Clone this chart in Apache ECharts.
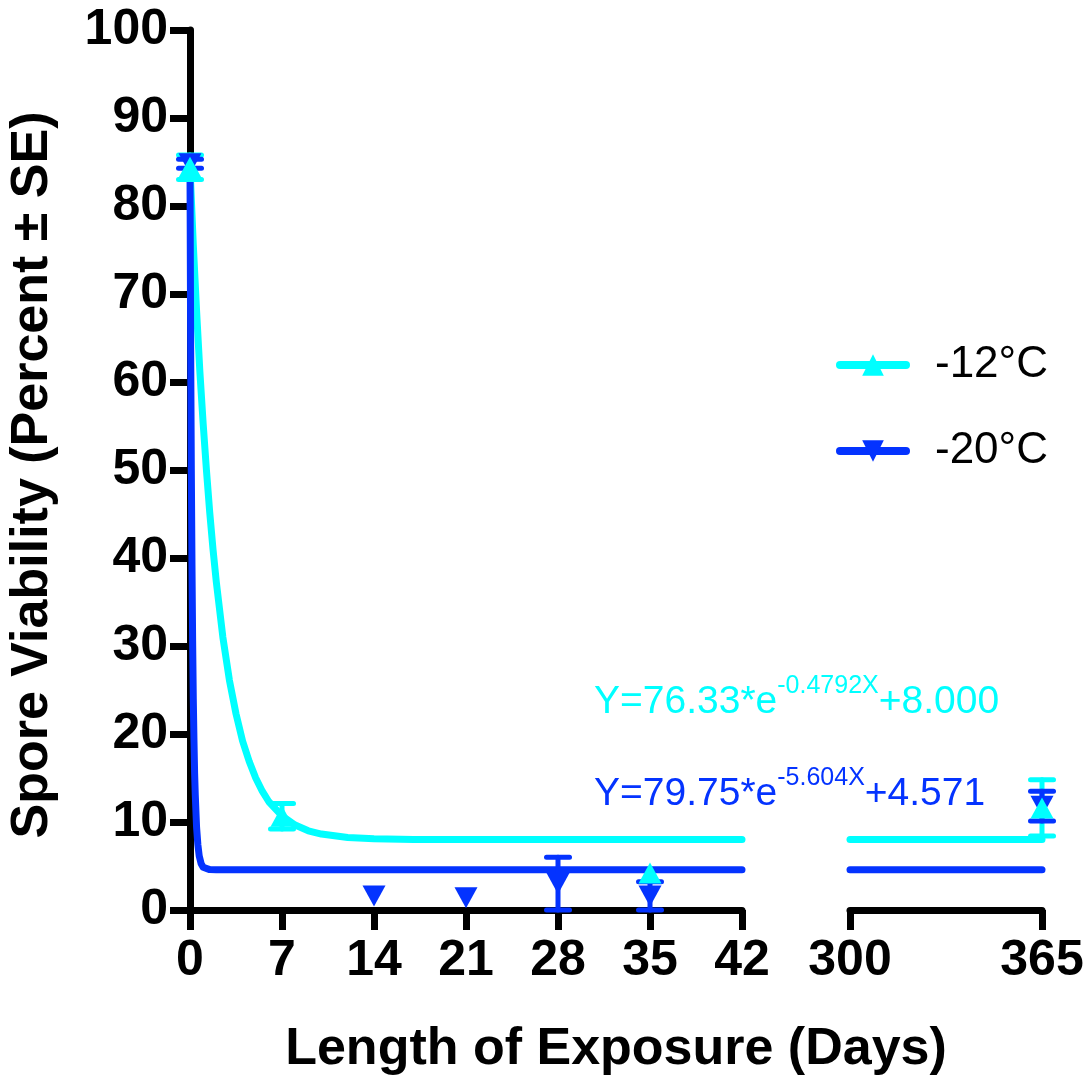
<!DOCTYPE html>
<html><head><meta charset="utf-8">
<script src="https://cdn.jsdelivr.net/npm/echarts@6/dist/echarts.min.js"></script>
<style>html,body{margin:0;padding:0;background:#fff}#c{width:1092px;height:1080px}</style>
</head><body><div id="c"></div>
<script>
const CYAN = '#00FFFF', BLUE = '#0433FF';
const FONT = '"Liberation Sans", Arial, Helvetica, sans-serif';

// Measured points (mean ± SE)
const c12Days = [0, 7, 35, 365];
const c12Mean = [84.4, 10.65, 4.2, 11.6];
const c12SE   = [1.4, 1.45, 0, 3.2];
const c20Days = [0, 14, 21, 28, 35, 365];
const c20Mean = [84.8, 1.6, 1.4, 3.0, 1.6, 11.8];
const c20SE   = [0.5, 0, 0, 3.0, 1.6, 1.7];

// Fitted curves
const c12FitX = [0, 0.25, 0.5, 0.75, 1, 1.25, 1.5, 1.75, 2, 2.5, 3, 3.5, 4, 4.5, 5, 5.5, 6, 7, 8, 9, 10, 12, 14, 17, 20, 30, 42];
const c12FitY = [84.3, 75.6, 68.1, 61.2, 55.3, 50.0, 45.2, 41.0, 37.3, 31.0, 26.1, 22.3, 19.2, 16.9, 15.0, 13.5, 12.3, 10.7, 9.65, 9.0, 8.63, 8.24, 8.09, 8.02, 8.0, 8.0, 8.0];
const c20FitX = [0, 0.05, 0.1, 0.15, 0.2, 0.25, 0.3, 0.35, 0.4, 0.5, 0.6, 0.7, 0.85, 1, 1.5, 2, 42];
const c20FitY = [84.3, 64.0, 50.1, 39.3, 30.6, 24.0, 19.4, 15.6, 13.1, 9.4, 7.4, 6.15, 5.25, 4.86, 4.59, 4.57, 4.57];
const c12FitRX = [300, 365], c12FitRY = [8.0, 8.0];
const c20FitRX = [300, 365], c20FitRY = [4.571, 4.571];

// Axis ticks
const xTicksLeft = [0, 7, 14, 21, 28, 35, 42];
const xTicksRight = [300, 365];
const yTicks = [0, 10, 20, 30, 40, 50, 60, 70, 80, 90, 100];

const legendNames = ['-12°C', '-20°C'];
const xTitle = 'Length of Exposure (Days)';
const yTitle = 'Spore Viability (Percent ± SE)';

const zip = (xs, ys) => xs.map((x, i) => [x, ys[i]]);
const pts = (d, m, s, pred) => d.map((x, i) => [x, m[i], s[i]]).filter(p => pred(p[0]));
const isL = x => x <= 42, isR = x => x >= 300;

function errRender(color) {
  return function (params, api) {
    const x = api.value(0), m = api.value(1), se = api.value(2);
    if (!se) return null;
    const lo = Math.max(0, m - se), hi = m + se;
    const a = api.coord([x, hi]), b = api.coord([x, lo]);
    const w = 11.5;
    const st = { stroke: color, lineWidth: 5, lineCap: 'round' };
    return { type: 'group', children: [
      { type: 'line', shape: { x1: a[0], y1: a[1], x2: b[0], y2: b[1] }, style: st },
      { type: 'line', shape: { x1: a[0] - w, y1: a[1], x2: a[0] + w, y2: a[1] }, style: st },
      { type: 'line', shape: { x1: b[0] - w, y1: b[1], x2: b[0] + w, y2: b[1] }, style: st }
    ]};
  };
}

const axisCommon = {
  axisLine: { show: true, lineStyle: { color: '#000', width: 7 } },
  axisTick: { show: true, length: 20, lineStyle: { color: '#000', width: 7 } },
  splitLine: { show: false },
  axisLabel: { color: '#000', fontSize: 50, fontWeight: 'bold', fontFamily: FONT }
};

function xAxis(idx, min, max, interval) {
  return Object.assign({}, JSON.parse(JSON.stringify(axisCommon)), {
    type: 'value', gridIndex: idx, min, max, interval,
    axisLabel: Object.assign({}, axisCommon.axisLabel, { margin: 26, showMinLabel: true, showMaxLabel: true })
  });
}

const eqRich = color => ({
  a: { fontSize: 39, fontFamily: FONT, fill: color, lineHeight: 48, verticalAlign: 'bottom' },
  s: { fontSize: 25, fontFamily: FONT, fill: color, lineHeight: 48, verticalAlign: 'top' }
});

const chart = echarts.init(document.getElementById('c'), null, { renderer: 'canvas' });
const option = {
  animation: false,
  backgroundColor: '#fff',
  grid: [
    { left: 190, top: 30, width: 552, height: 880, containLabel: false },
    { left: 850, top: 30, width: 192, height: 880, containLabel: false }
  ],
  xAxis: [
    xAxis(0, xTicksLeft[0], xTicksLeft[xTicksLeft.length - 1], 7),
    xAxis(1, xTicksRight[0], xTicksRight[1], xTicksRight[1] - xTicksRight[0])
  ],
  yAxis: [
    Object.assign({}, JSON.parse(JSON.stringify(axisCommon)), {
      type: 'value', gridIndex: 0, min: yTicks[0], max: yTicks[yTicks.length - 1], interval: 10,
      axisLabel: Object.assign({}, axisCommon.axisLabel, { margin: 22 })
    }),
    { type: 'value', gridIndex: 1, min: 0, max: 100, show: false, splitLine: { show: false } }
  ],
  legend: {
    data: legendNames, orient: 'vertical', left: 836, top: 343, padding: 0,
    itemWidth: 66, itemHeight: 27, itemGap: 42,
    lineStyle: { width: 8, cap: 'round' },
    textStyle: { fontSize: 44, color: '#000', fontFamily: FONT, padding: [0, 0, 0, 24] },
    selectedMode: false
  },
  graphic: [
    { type: 'text', x: 616, y: 1050, style: { text: xTitle, font: 'bold 52px ' + FONT, fill: '#000', align: 'center', verticalAlign: 'middle' } },
    { type: 'text', x: 33, y: 475, rotation: Math.PI / 2, style: { text: yTitle, font: 'bold 52px ' + FONT, fill: '#000', align: 'center', verticalAlign: 'middle' } },
    { type: 'text', x: 594, y: 698, style: { text: '{a|Y=76.33*e}{s|-0.4792X}{a|+8.000}', fill: CYAN, verticalAlign: 'middle', rich: eqRich(CYAN) } },
    { type: 'text', x: 594, y: 790, style: { text: '{a|Y=79.75*e}{s|-5.604X}{a|+4.571}', fill: BLUE, verticalAlign: 'middle', rich: eqRich(BLUE) } }
  ],
  series: [
    { type: 'line', name: 'fit12L', xAxisIndex: 0, yAxisIndex: 0, data: zip(c12FitX, c12FitY), showSymbol: false, clip: false,
      smooth: false, lineStyle: { color: CYAN, width: 7, cap: 'round', join: 'round' }, z: 2 },
    { type: 'line', name: 'fit20L', xAxisIndex: 0, yAxisIndex: 0, data: zip(c20FitX, c20FitY), showSymbol: false, clip: false,
      smooth: false, lineStyle: { color: BLUE, width: 7, cap: 'round', join: 'round' }, z: 3 },
    { type: 'line', name: 'fit12R', xAxisIndex: 1, yAxisIndex: 1, data: zip(c12FitRX, c12FitRY), showSymbol: false, clip: false,
      lineStyle: { color: CYAN, width: 7, cap: 'round' }, z: 2 },
    { type: 'line', name: 'fit20R', xAxisIndex: 1, yAxisIndex: 1, data: zip(c20FitRX, c20FitRY), showSymbol: false, clip: false,
      lineStyle: { color: BLUE, width: 7, cap: 'round' }, z: 3 },
    { type: 'custom', name: 'err12L', xAxisIndex: 0, yAxisIndex: 0, renderItem: errRender(CYAN), data: pts(c12Days, c12Mean, c12SE, isL), z: 4 },
    { type: 'custom', name: 'err12R', xAxisIndex: 1, yAxisIndex: 1, renderItem: errRender(CYAN), data: pts(c12Days, c12Mean, c12SE, isR), z: 4 },
    { type: 'custom', name: 'err20L', xAxisIndex: 0, yAxisIndex: 0, renderItem: errRender(BLUE), data: pts(c20Days, c20Mean, c20SE, isL), z: 5 },
    { type: 'custom', name: 'err20R', xAxisIndex: 1, yAxisIndex: 1, renderItem: errRender(BLUE), data: pts(c20Days, c20Mean, c20SE, isR), z: 5 },
    { type: 'scatter', name: 'pt20L', xAxisIndex: 0, yAxisIndex: 0, data: pts(c20Days, c20Mean, c20SE, isL), symbol: 'triangle', symbolRotate: 180,
      symbolSize: [23, 21], itemStyle: { color: BLUE, opacity: 1 }, z: 6 },
    { type: 'scatter', name: 'pt20R', xAxisIndex: 1, yAxisIndex: 1, data: pts(c20Days, c20Mean, c20SE, isR), symbol: 'triangle', symbolRotate: 180,
      symbolSize: [23, 21], itemStyle: { color: BLUE, opacity: 1 }, z: 6 },
    { type: 'scatter', name: 'pt12L', xAxisIndex: 0, yAxisIndex: 0, data: pts(c12Days, c12Mean, c12SE, isL), symbol: 'triangle',
      symbolSize: [23, 21], itemStyle: { color: CYAN, opacity: 1 }, z: 7 },
    { type: 'scatter', name: 'pt12R', xAxisIndex: 1, yAxisIndex: 1, data: pts(c12Days, c12Mean, c12SE, isR), symbol: 'triangle',
      symbolSize: [23, 21], itemStyle: { color: CYAN, opacity: 1 }, z: 7 },
    { type: 'line', name: legendNames[0], xAxisIndex: 0, yAxisIndex: 0, data: [], symbol: 'triangle', symbolSize: 22,
      itemStyle: { color: CYAN }, lineStyle: { color: CYAN, width: 8, cap: 'round' } },
    { type: 'line', name: legendNames[1], xAxisIndex: 0, yAxisIndex: 0, data: [], symbol: 'triangle', symbolRotate: 180, symbolSize: 22,
      itemStyle: { color: BLUE }, lineStyle: { color: BLUE, width: 8, cap: 'round' } }
  ]
};
chart.setOption(option);
</script>
</body></html>
